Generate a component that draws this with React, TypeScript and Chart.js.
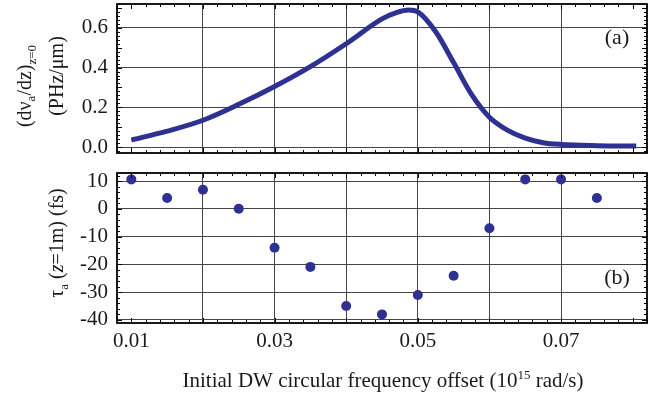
import React, { useEffect, useRef } from 'react';
import { Chart, registerables } from 'chart.js';
Chart.register(...registerables);

// ---- data (panel a) ----
const curveX = [0.010, 0.015, 0.020, 0.025, 0.030, 0.035, 0.040, 0.045, 0.047, 0.0487, 0.050, 0.0525, 0.055, 0.0575, 0.060, 0.0625, 0.065, 0.0675, 0.070, 0.075, 0.0805];
const curveY = [0.035, 0.080, 0.135, 0.215, 0.305, 0.405, 0.520, 0.645, 0.677, 0.690, 0.680, 0.580, 0.425, 0.265, 0.150, 0.085, 0.045, 0.022, 0.013, 0.007, 0.005];

// ---- data (panel b) ----
const tauX = [0.010, 0.015, 0.020, 0.025, 0.030, 0.035, 0.040, 0.045, 0.050, 0.055, 0.060, 0.065, 0.070, 0.075];
const tauY = [10.6, 3.9, 6.9, 0, -14, -20.9, -35, -38, -31, -24.1, -7, 10.6, 10.6, 3.9];

// ---- ticks ----
const xTicks = [0.01, 0.02, 0.03, 0.04, 0.05, 0.06, 0.07];
const xLabelTicks = [0.01, 0.03, 0.05, 0.07];
const topYTicks = [0.0, 0.1, 0.2, 0.3, 0.4, 0.5, 0.6];
const topYLabelTicks = [0.0, 0.2, 0.4, 0.6];
const botYTicks = [-40, -30, -20, -10, 0, 10];

const X_MIN = 0.008, X_MAX = 0.082;
const TOP_MIN = -0.03, TOP_MAX = 0.72;
const BOT_MIN = -41.1, BOT_MAX = 12.9;

const BLUE = '#2e3192';
const TXT = '#1a1a1a';
const GRID = '#444444';
const FAMILY = "'Liberation Serif', 'Times New Roman', serif";

type Run = { text: string; size: number; dy?: number; italic?: boolean };

function drawRich(ctx: CanvasRenderingContext2D, runs: Run[], cx: number, cy: number, rot: number) {
  ctx.save();
  ctx.translate(cx, cy);
  ctx.rotate(rot);
  const fontOf = (r: Run) => `${r.italic ? 'italic ' : ''}${r.size}px ${FAMILY}`;
  let total = 0;
  const widths = runs.map((r) => {
    ctx.font = fontOf(r);
    const w = ctx.measureText(r.text).width;
    total += w;
    return w;
  });
  let x = -total / 2;
  ctx.textAlign = 'left';
  ctx.textBaseline = 'alphabetic';
  ctx.fillStyle = TXT;
  runs.forEach((r, i) => {
    ctx.font = fontOf(r);
    ctx.fillText(r.text, x, r.dy || 0);
    x += widths[i];
  });
  ctx.restore();
}

function framePlugin(yStep: number, yMajorEvery: number, yFrom: number, yTo: number) {
  return {
    id: 'frameTicks',
    afterDraw(chart: any) {
      const { ctx, chartArea: a, scales } = chart;
      const xs = scales.x, ys = scales.y;
      ctx.save();
      ctx.strokeStyle = '#000';
      ctx.lineWidth = 1;
      ctx.beginPath();
      for (let i = 4; i <= 41; i++) {
        const px = Math.round(xs.getPixelForValue(i * 0.002)) + 0.5;
        const len = i % 5 === 0 ? 5 : 3;
        ctx.moveTo(px, a.bottom); ctx.lineTo(px, a.bottom - len);
        ctx.moveTo(px, a.top); ctx.lineTo(px, a.top + len);
      }
      for (let i = yFrom; i <= yTo; i++) {
        const py = Math.round(ys.getPixelForValue(i * yStep)) + 0.5;
        if (py < a.top || py > a.bottom) continue;
        const len = i % yMajorEvery === 0 ? 5 : 3;
        ctx.moveTo(a.left, py); ctx.lineTo(a.left + len, py);
        ctx.moveTo(a.right, py); ctx.lineTo(a.right - len, py);
      }
      ctx.stroke();
      ctx.lineWidth = 1.8;
      ctx.strokeRect(a.left, a.top, a.right - a.left, a.bottom - a.top);
      ctx.restore();
    },
  };
}

function textPlugin(draw: (ctx: CanvasRenderingContext2D) => void) {
  return {
    id: 'texts',
    afterDraw(chart: any) {
      const ctx = chart.ctx;
      ctx.save();
      draw(ctx);
      ctx.restore();
    },
  };
}

const tickFont = { family: FAMILY, size: 21 };

export default function App() {
  const topRef = useRef<HTMLCanvasElement>(null);
  const botRef = useRef<HTMLCanvasElement>(null);

  useEffect(() => {
    const top = new Chart(topRef.current!, {
      type: 'line',
      data: {
        datasets: [
          {
            data: curveX.map((x, i) => ({ x, y: curveY[i] })),
            borderColor: BLUE,
            borderWidth: 5,
            pointRadius: 0,
            cubicInterpolationMode: 'monotone',
            fill: false,
          },
        ],
      },
      options: {
        responsive: false,
        animation: false,
        devicePixelRatio: 1,
        layout: { padding: { left: 0, right: 20, top: 4, bottom: 0 } },
        plugins: { legend: { display: false }, tooltip: { enabled: false } },
        scales: {
          x: {
            type: 'linear',
            min: X_MIN,
            max: X_MAX,
            afterBuildTicks: (s: any) => { s.ticks = xTicks.map((v) => ({ value: v })); },
            ticks: { display: false },
            grid: {
              drawTicks: false,
              lineWidth: 1,
              color: (c: any) => (c.tick && c.tick.value === 0.01 ? 'rgba(0,0,0,0)' : GRID),
            },
            border: { display: false },
            afterFit: (s: any) => { s.height = 395 - 153; s.paddingLeft = 0; s.paddingRight = 0; },
          },
          y: {
            type: 'linear',
            min: TOP_MIN,
            max: TOP_MAX,
            afterBuildTicks: (s: any) => { s.ticks = topYTicks.map((v) => ({ value: v })); },
            ticks: {
              font: tickFont,
              color: TXT,
              padding: 9,
              callback: (v: any) => (topYLabelTicks.includes(v) ? Number(v).toFixed(1) : ''),
            },
            grid: { drawTicks: false, lineWidth: 1, color: GRID },
            border: { display: false },
            afterFit: (s: any) => { s.width = 117; s.paddingTop = 0; s.paddingBottom = 0; },
          },
        },
      },
      plugins: [
        framePlugin(0.02, 5, -1, 36),
        textPlugin((ctx) => {
          drawRich(ctx, [
            { text: '(d\u03bd', size: 20 },
            { text: 'a', size: 13, dy: 4 },
            { text: '/dz)', size: 20 },
            { text: 'z=0', size: 13, dy: 5 },
          ], 31, 86, -Math.PI / 2);
          drawRich(ctx, [{ text: '(PHz/\u03bcm)', size: 20 }], 63, 76, -Math.PI / 2);
          ctx.font = `22px ${FAMILY}`;
          ctx.fillStyle = TXT;
          ctx.textAlign = 'center';
          ctx.textBaseline = 'middle';
          ctx.fillText('(a)', 617, 38);
        }),
      ],
    } as any);

    const bot = new Chart(botRef.current!, {
      type: 'scatter',
      data: {
        datasets: [
          {
            data: tauX.map((x, i) => ({ x, y: tauY[i] })),
            backgroundColor: BLUE,
            borderWidth: 0,
            pointRadius: 5,
          },
        ],
      },
      options: {
        responsive: false,
        animation: false,
        devicePixelRatio: 1,
        layout: { padding: { left: 0, right: 20, top: 173, bottom: 0 } },
        plugins: { legend: { display: false }, tooltip: { enabled: false } },
        scales: {
          x: {
            type: 'linear',
            min: X_MIN,
            max: X_MAX,
            afterBuildTicks: (s: any) => { s.ticks = xTicks.map((v) => ({ value: v })); },
            ticks: {
              font: tickFont,
              color: TXT,
              padding: 6,
              maxRotation: 0,
              autoSkip: false,
              callback: (v: any) => (xLabelTicks.includes(v) ? Number(v).toFixed(2) : ''),
            },
            grid: {
              drawTicks: false,
              lineWidth: 1,
              color: (c: any) => (c.tick && c.tick.value === 0.01 ? 'rgba(0,0,0,0)' : GRID),
            },
            border: { display: false },
            afterFit: (s: any) => { s.height = 395 - 323; s.paddingLeft = 0; s.paddingRight = 0; },
          },
          y: {
            type: 'linear',
            min: BOT_MIN,
            max: BOT_MAX,
            afterBuildTicks: (s: any) => { s.ticks = botYTicks.map((v) => ({ value: v })); },
            ticks: { font: tickFont, color: TXT, padding: 9, callback: (v: any) => String(v) },
            grid: { drawTicks: false, lineWidth: 1, color: GRID },
            border: { display: false },
            afterFit: (s: any) => { s.width = 117; s.paddingTop = 0; s.paddingBottom = 0; },
          },
        },
      },
      plugins: [
        framePlugin(2, 5, -20, 6),
        textPlugin((ctx) => {
          drawRich(ctx, [
            { text: '\u03c4', size: 20 },
            { text: 'a', size: 13, dy: 5 },
            { text: ' (', size: 20 },
            { text: 'z', size: 20, italic: true },
            { text: '=1m) (fs)', size: 20 },
          ], 63, 243, -Math.PI / 2);
          drawRich(ctx, [
            { text: 'Initial DW circular frequency offset (10', size: 21 },
            { text: '15', size: 13, dy: -8 },
            { text: ' rad/s)', size: 21 },
          ], 383, 387, 0);
          ctx.font = `22px ${FAMILY}`;
          ctx.fillStyle = TXT;
          ctx.textAlign = 'center';
          ctx.textBaseline = 'middle';
          ctx.fillText('(b)', 617, 278);
        }),
      ],
    } as any);

    return () => {
      top.destroy();
      bot.destroy();
    };
  }, []);

  const cStyle: React.CSSProperties = { position: 'absolute', left: 0, top: 0, width: 667, height: 395 };
  return (
    <div style={{ position: 'fixed', left: 0, top: 0, width: 667, height: 395, background: '#fff' }}>
      <canvas ref={topRef} width={667} height={395} style={cStyle} />
      <canvas ref={botRef} width={667} height={395} style={cStyle} />
    </div>
  );
}
